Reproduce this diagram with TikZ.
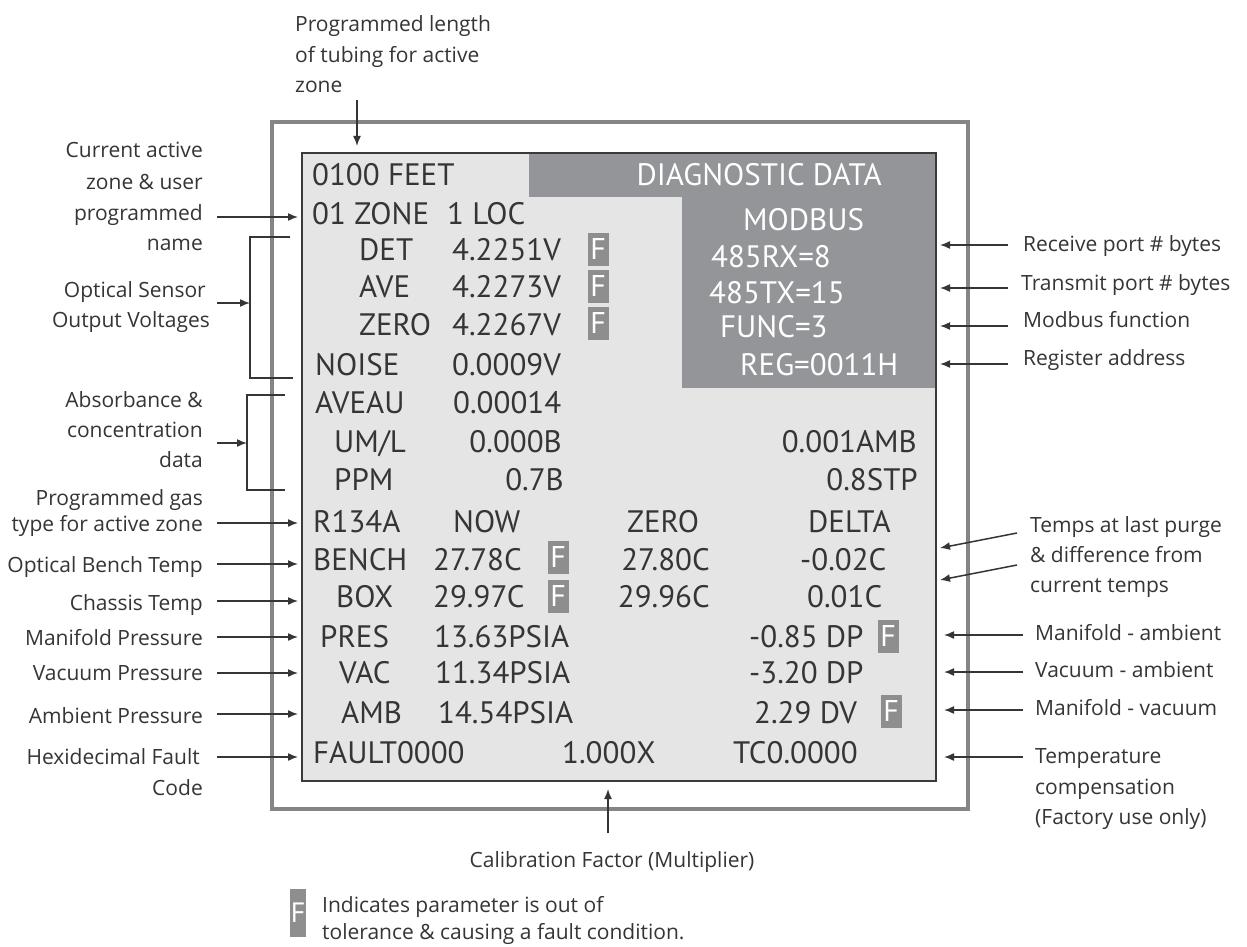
\documentclass[tikz,border=0pt]{standalone}
\usepackage{fontspec}
\setmainfont{PT Sans}
\newfontfamily\annfont{Open Sans}
\usetikzlibrary{arrows.meta}
\definecolor{txt}{HTML}{353535}
\definecolor{scrbg}{HTML}{E5E5E6}
\definecolor{dgray}{HTML}{949598}
\definecolor{fgray}{HTML}{8E8E8F}
\definecolor{ogray}{HTML}{858585}
\definecolor{frame}{HTML}{3A3A3A}
\begin{document}
\begin{tikzpicture}[x=1pt,y=-1pt,
  scr/.style={font=\fontsize{31}{36}\selectfont, text=txt, inner sep=0pt, text height=21.7pt, text depth=0pt, anchor=west},
  scrw/.style={scr, text=white},
  ann/.style={font=\annfont\fontsize{21}{24}\selectfont, text=txt, inner sep=0pt, text height=15pt, text depth=0pt},
  fbox/.style={fill=fgray, text=white, inner sep=0pt, minimum width=21pt, minimum height=33pt, text height=21pt, text depth=0pt, font=\fontsize{30}{30}\selectfont},
  arr/.style={draw=txt, line width=1.5pt, -{Latex[length=10pt,width=8pt]}},
  brk/.style={draw=txt, line width=1.5pt}
]
\useasboundingbox (0,0) rectangle (1247,947);
\fill[white] (0,0) rectangle (1247,947);

% outer frame and screen
\draw[ogray, line width=4pt] (272,122) rectangle (968,809);
\fill[scrbg] (302,153) rectangle (936,781);
\fill[dgray] (529,153) rectangle (936,197);
\fill[dgray] (682,196) rectangle (936,388);
\draw[frame, line width=2pt] (302,153) rectangle (936,781);

% top annotation
\node[ann, anchor=west] (t1) at (295,24) {Programmed length};
\node[ann, anchor=west] (t2) at (295,55) {of tubing for active};
\node[ann, anchor=west] (t3) at (295,85) {zone};
\coordinate (t3a) at (357,100); \coordinate (t3b) at (357,146);
\draw[arr] (t3a) -- (t3b);

% diagnostic header and modbus
\node[scrw, anchor=east] (hdr) at (882,175) {DIAGNOSTIC DATA};
\node[scrw] (mod) at (743,220) {MODBUS};
\node[scrw] (rx) at (711,257) {485RX=8};
\node[scrw] (tx) at (709,293) {485TX=15};
\node[scrw] (fn) at (720,327) {FUNC=3};
\node[scrw] (reg) at (740,365) {REG=0011H};

% screen rows
\node[scr] (feet) at (312,175) {0100 FEET};
\node[scr] (zone) at (312,214) {01 ZONE};
\node[scr] (loc) at (447,214) {1 LOC};
\node[scr] (det) at (359,250) {DET};
\node[scr] (detv) at (452,250) {4.2251V};
\node[fbox] (f1) at (598,249) {F};
\node[scr] (ave) at (359,287) {AVE};
\node[scr] (avev) at (452,287) {4.2273V};
\node[fbox] (f2) at (598,286) {F};
\node[scr] (zer) at (359,325) {ZERO};
\node[scr] (zerv) at (452,325) {4.2267V};
\node[fbox] (f3) at (598,323) {F};
\node[scr] (noise) at (315,365) {NOISE};
\node[scr] (noisev) at (452,365) {0.0009V};
\node[scr] (aveau) at (315,403) {AVEAU};
\node[scr] (aveauv) at (453,403) {0.00014};
\node[scr] (uml) at (334,442) {UM/L};
\node[scr, anchor=east] (umlv) at (562,442) {0.000B};
\node[scr, anchor=east] (amb1) at (917,442) {0.001AMB};
\node[scr] (ppm) at (334,480) {PPM};
\node[scr, anchor=east] (ppmv) at (564,480) {0.7B};
\node[scr, anchor=east] (stp) at (918,480) {0.8STP};
\node[scr] (gas) at (313,522) {R134A};
\node[scr] (now) at (453,522) {NOW};
\node[scr] (zcol) at (627,522) {ZERO};
\node[scr] (delta) at (808,522) {DELTA};
\node[scr] (bench) at (313,560) {BENCH};
\node[scr] (benchv) at (433,560) {27.78C};
\node[fbox] (f4) at (558,557) {F};
\node[scr, anchor=east] (benchz) at (710,560) {27.80C};
\node[scr] (benchd) at (800,560) {-0.02C};
\node[scr] (box) at (336,597) {BOX};
\node[scr] (boxv) at (433,597) {29.97C};
\node[fbox] (f5) at (558,596) {F};
\node[scr, anchor=east] (boxz) at (710,597) {29.96C};
\node[scr] (boxd) at (807,597) {0.01C};
\node[scr] (pres) at (320,637) {PRES};
\node[scr] (presv) at (434,637) {13.63PSIA};
\node[scr] (presd) at (749,637) {-0.85 DP};
\node[fbox] (f6) at (888,636) {F};
\node[scr] (vac) at (339,673) {VAC};
\node[scr] (vacv) at (435,673) {11.34PSIA};
\node[scr] (vacd) at (749,673) {-3.20 DP};
\node[scr] (amb) at (341,713) {AMB};
\node[scr] (ambv) at (438,713) {14.54PSIA};
\node[scr] (ambd) at (754,713) {2.29 DV};
\node[fbox] (f7) at (891,711) {F};
\node[scr] (fault) at (313,753) {FAULT0000};
\node[scr] (cal) at (562,753) {1.000X};
\node[scr] (tc) at (733,753) {TC0.0000};

% left annotations
\node[ann, anchor=east] (la1) at (203,150) {Current active};
\node[ann, anchor=east] (la2) at (203,182) {zone \& user};
\node[ann, anchor=east] (la3) at (203,213) {programmed};
\node[ann, anchor=east] (la4) at (203,243) {name};
\node[ann, anchor=east] (lb1) at (206,290) {Optical Sensor};
\node[ann, anchor=east] (lb2) at (210,320) {Output Voltages};
\node[ann, anchor=east] (lc1) at (203,400) {Absorbance \&};
\node[ann, anchor=east] (lc2) at (203,430) {concentration};
\node[ann, anchor=east] (lc3) at (203,460) {data};
\node[ann, anchor=east] (ld1) at (203,498) {Programmed gas};
\node[ann, anchor=east] (ld2) at (203,524) {type for active zone};
\node[ann, anchor=east] (le) at (203,565) {Optical Bench Temp};
\node[ann, anchor=east] (lf) at (203,603) {Chassis Temp};
\node[ann, anchor=east] (lg) at (203,638) {Manifold Pressure};
\node[ann, anchor=east] (lh) at (203,673) {Vacuum Pressure};
\node[ann, anchor=east] (li) at (203,716) {Ambient Pressure};
\node[ann, anchor=east] (lj1) at (200,757) {Hexidecimal Fault};
\node[ann, anchor=east] (lj2) at (203,788) {Code};

\coordinate (aS1) at (217,217); \coordinate (aE1) at (298,217);
\draw[arr] (aS1) -- (aE1);
\draw[brk] (290,237) -- (250,237) -- (250,378) -- (293,378);
\coordinate (aS2) at (217,303); \coordinate (aE2) at (250,303);
\draw[arr] (aS2) -- (aE2);
\draw[brk] (285,395) -- (247,395) -- (247,490) -- (285,490);
\coordinate (aS3) at (217,443); \coordinate (aE3) at (247,443);
\draw[arr] (aS3) -- (aE3);
\foreach \n/\y in {4/523,5/564,6/601,7/637,8/673,9/714,10/757}{
  \coordinate (aS\n) at (217,\y); \coordinate (aE\n) at (298,\y);
  \draw[arr] (aS\n) -- (aE\n);
}

% right annotations
\node[ann, anchor=west] (r1) at (1023,244) {Receive port \# bytes};
\node[ann, anchor=west] (r2) at (1021,283) {Transmit port \# bytes};
\node[ann, anchor=west] (r3) at (1023,320) {Modbus function};
\node[ann, anchor=west] (r4) at (1023,358) {Register address};
\node[ann, anchor=west] (r5a) at (1030,525) {Temps at last purge};
\node[ann, anchor=west] (r5b) at (1030,555) {\& difference from};
\node[ann, anchor=west] (r5c) at (1030,585) {current temps};
\node[ann, anchor=west] (r6) at (1035,633) {Manifold - ambient};
\node[ann, anchor=west] (r7) at (1035,670) {Vacuum - ambient};
\node[ann, anchor=west] (r8) at (1035,708) {Manifold - vacuum};
\node[ann, anchor=west] (r9a) at (1035,756) {Temperature};
\node[ann, anchor=west] (r9b) at (1035,787) {compensation};
\node[ann, anchor=west] (r9c) at (1035,817) {(Factory use only)};

\foreach \n/\y in {1/245,2/288,3/326,4/364}{
  \coordinate (bS\n) at (1008,\y); \coordinate (bE\n) at (940,\y);
  \draw[arr] (bS\n) -- (bE\n);
}
\coordinate (bS5) at (1017,533); \coordinate (bE5) at (940,548);
\draw[arr] (bS5) -- (bE5);
\coordinate (bS6) at (1017,565); \coordinate (bE6) at (940,580);
\draw[arr] (bS6) -- (bE6);
\foreach \n/\y in {7/635,8/672,9/710,10/757}{
  \coordinate (bS\n) at (1023,\y); \coordinate (bE\n) at (944,\y);
  \draw[arr] (bS\n) -- (bE\n);
}

% bottom
\node[ann] (calib) at (612,860) {Calibration Factor (Multiplier)};
\coordinate (cS) at (608,833); \coordinate (cE) at (608,789);
\draw[arr] (cS) -- (cE);
\node[fbox, minimum width=16pt, minimum height=48pt, text height=19.6pt, font=\fontsize{28}{28}\selectfont] (fl) at (298,913) {F};
\node[ann, anchor=west] (leg1) at (322,905) {Indicates parameter is out of};
\node[ann, anchor=west] (leg2) at (322,932) {tolerance \& causing a fault condition.};
\end{tikzpicture}
\end{document}
